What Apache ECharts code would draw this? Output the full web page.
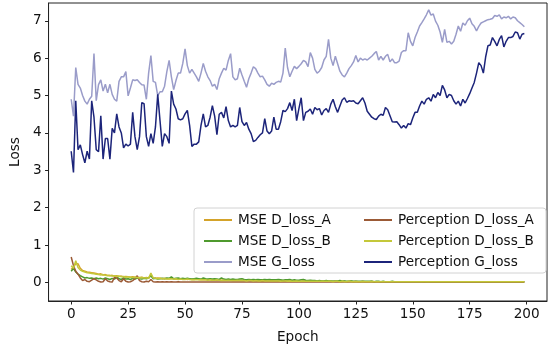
<!DOCTYPE html>
<html>
<head>
<meta charset="utf-8">
<script src="https://cdn.jsdelivr.net/npm/echarts@6/dist/echarts.min.js"></script>
<style>html,body{margin:0;padding:0;background:#fff}#c{width:550px;height:349px}</style>
</head>
<body>
<div id="c"></div>
<script>
const xTicks = [0, 25, 50, 75, 100, 125, 150, 175, 200];
const yTicks = [0, 1, 2, 3, 4, 5, 6, 7];
const seriesNames = ['MSE D_loss_A', 'MSE D_loss_B', 'MSE G_loss', 'Perception D_loss_A', 'Perception D_loss_B', 'Perception G_loss'];

const mseDA = [
0.35,0.42,0.5,0.5,0.38,0.32,0.3,0.28,0.27,0.26,
0.25,0.24,0.22,0.23,0.2,0.21,0.19,0.18,0.19,0.17,
0.18,0.16,0.17,0.15,0.16,0.15,0.14,0.15,0.14,0.13,
0.13,0.14,0.12,0.13,0.12,0.2,0.12,0.11,0.12,0.11,
0.1,0.11,0.1,0.1,0.12,0.1,0.09,0.1,0.09,0.09,
0.09,0.08,0.09,0.08,0.08,0.09,0.08,0.07,0.08,0.07,
0.07,0.07,0.06,0.07,0.06,0.07,0.06,0.06,0.07,0.06,
0.06,0.05,0.06,0.05,0.06,0.05,0.05,0.06,0.05,0.05,
0.05,0.05,0.04,0.05,0.04,0.05,0.04,0.04,0.05,0.04,
0.04,0.04,0.04,0.05,0.04,0.04,0.04,0.03,0.04,0.04,
0.04,0.03,0.04,0.03,0.03,0.04,0.03,0.03,0.03,0.03,
0.03,0.03,0.03,0.03,0.03,0.03,0.03,0.03,0.02,0.03,
0.03,0.02,0.03,0.03,0.02,0.03,0.02,0.02,0.03,0.02,
0.02,0.02,0.03,0.02,0.02,0.02,0.02,0.02,0.02,0.02,
0.02,0.02,0.02,0.02,0.02,0.02,0.02,0.02,0.02,0.02,
0.02,0.02,0.02,0.02,0.02,0.01,0.02,0.02,0.01,0.02,
0.01,0.02,0.01,0.01,0.02,0.01,0.01,0.01,0.01,0.01,
0.01,0.01,0.01,0.01,0.01,0.01,0.01,0.01,0.01,0.01,
0.01,0.01,0.01,0.01,0.01,0.01,0.01,0.01,0.01,0.01,
0.01,0.01,0.01,0.01,0.01,0.01,0.01,0.01,0.01,0.01
];
const mseDB = [
0.3,0.38,0.28,0.22,0.18,0.15,0.12,0.13,0.11,0.12,
0.1,0.12,0.1,0.11,0.09,0.12,0.1,0.08,0.11,0.09,
0.15,0.1,0.08,0.12,0.09,0.1,0.08,0.11,0.09,0.12,
0.1,0.09,0.11,0.1,0.12,0.18,0.1,0.11,0.09,0.1,
0.11,0.1,0.12,0.11,0.15,0.1,0.11,0.12,0.1,0.11,
0.1,0.11,0.1,0.09,0.1,0.11,0.1,0.09,0.12,0.1,
0.09,0.1,0.09,0.1,0.09,0.08,0.12,0.09,0.08,0.09,
0.08,0.09,0.08,0.08,0.09,0.1,0.08,0.07,0.08,0.07,
0.08,0.07,0.08,0.07,0.07,0.08,0.07,0.08,0.07,0.07,
0.07,0.08,0.07,0.06,0.07,0.07,0.08,0.06,0.07,0.06,
0.06,0.07,0.08,0.06,0.05,0.06,0.05,0.05,0.04,0.05,
0.04,0.04,0.05,0.04,0.04,0.03,0.04,0.04,0.05,0.03,
0.04,0.03,0.03,0.04,0.03,0.03,0.03,0.03,0.03,0.03,
0.03,0.03,0.03,0.02,0.03,0.03,0.02,0.03,0.02,0.02,
0.02,0.03,0.02,0.02,0.02,0.02,0.02,0.02,0.02,0.02,
0.02,0.02,0.02,0.02,0.02,0.02,0.02,0.02,0.02,0.02,
0.02,0.02,0.02,0.02,0.02,0.02,0.02,0.02,0.02,0.02,
0.02,0.02,0.02,0.02,0.02,0.02,0.02,0.02,0.02,0.02,
0.02,0.02,0.02,0.02,0.02,0.02,0.02,0.02,0.02,0.02,
0.02,0.02,0.02,0.02,0.02,0.02,0.02,0.02,0.02,0.02
];
const mseG = [
4.9,4.45,5.75,5.3,5.2,5.0,4.85,4.77,4.9,4.98,
6.12,4.86,5.29,5.42,5.12,5.3,5.07,5.3,5.03,4.9,
4.85,5.38,5.5,5.5,5.64,4.99,5.2,5.42,5.4,5.42,
5.35,5.29,5.28,4.9,5.6,6.07,5.38,5.35,5.0,5.1,
5.1,5.25,5.64,5.94,5.5,5.16,5.4,5.6,5.6,5.86,
6.25,5.8,5.6,5.7,5.6,5.5,5.38,5.6,5.86,5.65,
5.5,5.4,5.25,5.3,5.16,5.45,5.6,5.73,5.68,5.94,
6.12,5.5,5.42,5.45,5.73,5.55,5.38,5.22,5.45,5.6,
5.77,5.72,5.6,5.5,5.52,5.42,5.3,5.25,5.33,5.3,
5.35,5.38,5.36,5.6,6.27,5.75,5.5,5.65,5.78,5.72,
5.78,5.85,5.94,5.9,5.77,6.15,6.0,5.7,5.6,5.65,
5.75,5.95,6.05,6.5,6.0,5.8,6.05,5.85,5.65,5.55,
5.5,5.6,5.72,5.8,5.9,6.07,5.9,6.0,5.95,5.98,
5.95,6.0,6.05,6.12,6.18,5.95,6.05,5.95,6.05,6.1,
5.9,5.98,5.88,5.88,5.92,6.15,6.2,6.2,6.68,6.45,
6.33,6.55,6.7,6.86,6.95,7.05,7.16,7.29,7.15,7.18,
6.99,6.88,6.7,6.42,6.77,6.42,6.45,6.38,6.45,6.64,
6.86,6.72,6.94,6.88,7.0,7.07,6.92,6.85,6.73,6.85,
6.94,6.97,7.0,7.03,7.04,7.06,7.14,7.12,7.16,7.05,
7.1,7.08,7.12,7.05,7.1,7.08,7.0,6.95,6.9,6.84
];
const percDA = [
0.68,0.45,0.3,0.22,0.12,0.05,0.08,0.03,0.02,0.06,
0.1,0.07,0.03,0.01,0.02,0.1,0.04,0.02,0.01,0.14,
0.12,0.05,0.02,0.1,0.03,0.01,0.02,0.05,0.1,0.18,
0.05,0.02,0.01,0.03,0.02,0.08,0.02,0.01,0.02,0.01,
0.02,0.01,0.02,0.01,0.02,0.01,0.01,0.02,0.01,0.01,
0.01,0.01,0.01,0.01,0.01,0.01,0.01,0.01,0.01,0.01,
0.01,0.01,0.01,0.01,0.01,0.01,0.01,0.01,0.01,0.01,
0.01,0.01,0.01,0.01,0.01,0.01,0.01,0.01,0.01,0.01,
0.01,0.01,0.01,0.01,0.01,0.01,0.01,0.01,0.01,0.01,
0.01,0.01,0.01,0.01,0.01,0.01,0.01,0.01,0.01,0.01,
0.01,0.01,0.01,0.01,0.01,0.01,0.01,0.01,0.01,0.01,
0.01,0.01,0.01,0.01,0.01,0.01,0.01,0.01,0.01,0.01,
0.01,0.01,0.01,0.01,0.01,0.01,0.01,0.01,0.01,0.01,
0.01,0.01,0.01,0.01,0.01,0.01,0.01,0.01,0.01,0.01,
0.01,0.01,0.01,0.01,0.01,0.01,0.01,0.01,0.01,0.01,
0.01,0.01,0.01,0.01,0.01,0.01,0.01,0.01,0.01,0.01,
0.01,0.01,0.01,0.01,0.01,0.01,0.01,0.01,0.01,0.01,
0.01,0.01,0.01,0.01,0.01,0.01,0.01,0.01,0.01,0.01,
0.01,0.01,0.01,0.01,0.01,0.01,0.01,0.01,0.01,0.01,
0.01,0.01,0.01,0.01,0.01,0.01,0.01,0.01,0.01,0.01
];
const percDB = [
0.45,0.38,0.58,0.4,0.33,0.3,0.28,0.26,0.25,0.24,
0.23,0.22,0.21,0.2,0.21,0.19,0.18,0.19,0.17,0.18,
0.16,0.17,0.15,0.16,0.14,0.15,0.14,0.13,0.14,0.13,
0.12,0.13,0.12,0.12,0.11,0.25,0.12,0.11,0.1,0.11,
0.1,0.1,0.09,0.1,0.09,0.09,0.1,0.08,0.09,0.08,
0.08,0.09,0.08,0.07,0.08,0.07,0.07,0.08,0.07,0.07,
0.06,0.07,0.06,0.06,0.07,0.06,0.05,0.06,0.05,0.06,
0.05,0.05,0.05,0.06,0.05,0.05,0.05,0.04,0.05,0.05,
0.04,0.05,0.04,0.04,0.05,0.04,0.04,0.04,0.04,0.04,
0.04,0.04,0.03,0.04,0.04,0.03,0.04,0.03,0.03,0.04,
0.03,0.03,0.03,0.03,0.03,0.03,0.03,0.03,0.03,0.03,
0.03,0.03,0.03,0.03,0.03,0.02,0.03,0.03,0.02,0.03,
0.02,0.02,0.03,0.02,0.02,0.02,0.02,0.02,0.02,0.02,
0.02,0.02,0.02,0.02,0.02,0.02,0.02,0.02,0.02,0.02,
0.02,0.02,0.02,0.02,0.02,0.02,0.02,0.02,0.02,0.02,
0.02,0.02,0.02,0.02,0.02,0.02,0.02,0.02,0.02,0.02,
0.02,0.02,0.02,0.02,0.02,0.02,0.02,0.02,0.02,0.02,
0.02,0.02,0.02,0.02,0.02,0.02,0.02,0.02,0.02,0.02,
0.02,0.02,0.02,0.02,0.02,0.02,0.02,0.02,0.02,0.02,
0.02,0.02,0.02,0.02,0.02,0.02,0.02,0.02,0.02,0.02
];
const percG = [
3.51,2.94,4.86,3.55,3.68,3.42,3.2,3.51,3.3,4.86,
4.42,3.55,3.5,4.46,3.3,3.85,3.85,3.3,4.12,4.0,
4.51,4.16,4.0,3.6,3.7,3.65,3.7,4.55,3.9,3.55,
3.9,4.81,4.78,3.9,3.64,3.98,3.72,4.16,5.03,4.33,
3.64,3.98,3.9,3.72,5.12,4.77,4.64,4.38,4.35,4.38,
4.51,4.6,4.2,3.64,3.7,3.7,3.76,4.2,4.51,4.16,
4.2,4.42,4.73,4.45,3.95,4.5,4.55,4.4,4.7,4.33,
4.16,4.2,4.16,4.2,4.68,4.3,4.2,4.28,4.1,3.98,
3.77,3.8,3.88,3.95,4.0,4.38,4.05,3.98,4.05,4.42,
4.1,4.1,4.3,4.6,4.57,4.65,4.81,4.6,4.9,4.33,
4.65,4.94,4.33,4.55,4.58,4.64,4.5,4.68,4.62,4.65,
4.48,4.6,4.65,4.55,4.77,4.9,4.7,4.55,4.72,4.88,
4.94,4.82,4.86,4.85,4.86,4.8,4.78,4.86,4.94,4.8,
4.58,4.5,4.42,4.38,4.36,4.45,4.5,4.47,4.68,4.62,
4.46,4.3,4.29,4.3,4.22,4.13,4.2,4.13,4.25,4.22,
4.4,4.55,4.55,4.72,4.85,4.77,4.9,4.94,4.85,5.03,
4.94,5.08,5.0,5.27,5.15,4.94,5.03,5.0,4.86,4.77,
4.85,4.72,4.9,4.8,4.92,5.05,5.2,5.35,5.6,5.88,
5.8,5.6,6.03,6.33,6.35,6.55,6.45,6.33,6.5,6.6,
6.3,6.45,6.55,6.55,6.58,6.7,6.68,6.51,6.64,6.66
];
const seriesColors = ['#d4a32a', '#4f9a2e', '#9a9cc9', '#9b5a36', '#c4c83a', '#1c247a'];
const seriesData = [mseDA, mseDB, mseG, percDA, percDB, percG];

const epochs = mseG.map((_, i) => i);
const FONT = 'DejaVu Sans';
const FS = 13.6;

const chart = echarts.init(document.getElementById('c'), null, {renderer: 'canvas'});
const legendCommon = {
  orient: 'vertical', top: 207, itemWidth: 28, itemHeight: 2, itemGap: 5, z: 60, icon: 'rect',
  textStyle: {fontFamily: FONT, fontSize: FS, color: '#111', padding: [0, 0, 0, 1], lineHeight: 16}
};
const axisLineStyle = {show: true, onZero: false, lineStyle: {color: '#222', width: 1}};
const option = {
  animation: false,
  backgroundColor: '#ffffff',
  grid: {left: 34, right: 3, top: 3, bottom: 41, show: true, borderColor: '#222', borderWidth: 1, backgroundColor: 'transparent'},
  xAxis: {
    type: 'value', min: -9.95, max: 208.95,
    name: 'Epoch', nameLocation: 'middle', nameGap: 29,
    nameTextStyle: {fontFamily: FONT, fontSize: FS, color: '#111'},
    axisLine: axisLineStyle,
    splitLine: {show: false},
    axisTick: {show: true, inside: false, length: 3.5, lineStyle: {color: '#222', width: 1}, customValues: xTicks},
    axisLabel: {fontFamily: FONT, fontSize: FS, color: '#111', margin: 6, customValues: xTicks}
  },
  yAxis: {
    type: 'value', min: -0.496, max: 7.475,
    name: 'Loss', nameLocation: 'middle', nameGap: 25, nameRotate: 90,
    nameTextStyle: {fontFamily: FONT, fontSize: FS, color: '#111'},
    axisLine: axisLineStyle,
    splitLine: {show: false},
    axisTick: {show: true, inside: false, length: 3.5, lineStyle: {color: '#222', width: 1}, customValues: yTicks},
    axisLabel: {fontFamily: FONT, fontSize: FS, color: '#111', margin: 7, customValues: yTicks}
  },
  graphic: [{
    type: 'rect', z: 50,
    shape: {x: 194, y: 208, width: 352, height: 65, r: 3},
    style: {fill: 'rgba(255,255,255,0.85)', stroke: '#d2d2d2', lineWidth: 1}
  }],
  legend: [
    Object.assign({data: seriesNames.slice(0, 3), left: 199}, legendCommon),
    Object.assign({data: seriesNames.slice(3), left: 359}, legendCommon)
  ],
  series: seriesNames.map((name, k) => ({
    name: name, type: 'line', symbol: 'none', showSymbol: false,
    data: epochs.map(e => [e, seriesData[k][e]]),
    lineStyle: {width: 1.5, color: seriesColors[k]},
    itemStyle: {color: seriesColors[k]},
    z: 2 + k
  }))
};
chart.setOption(option);
</script>
</body>
</html>
